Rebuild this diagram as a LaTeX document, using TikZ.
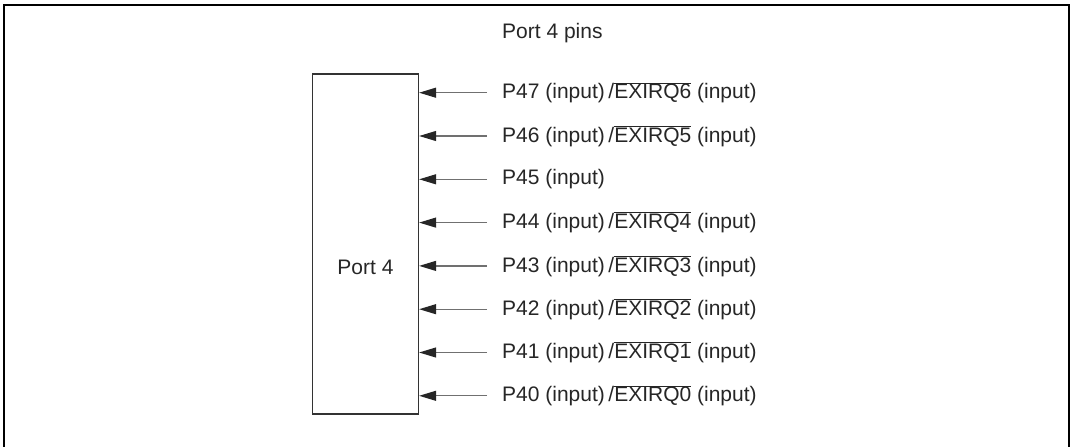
\documentclass[tikz,border=0pt]{standalone}
\usepackage{fontspec}
\setmainfont{Liberation Sans}
\definecolor{boxgray}{HTML}{333333}
\definecolor{wiregray}{HTML}{707070}
\usetikzlibrary{arrows.meta,positioning}
\newcommand{\irqbar}[1]{$\overline{\mbox{EXIRQ#1}}$}

\begin{document}
\begin{tikzpicture}[x=1pt, y=-1pt,
  pinlabel/.style={anchor=west, inner xsep=15pt, inner ysep=0pt,
    font=\fontsize{21}{25}\selectfont, text=black!85},
  pinarrow/.style={draw=wiregray, line width=1.2pt,
    -{Triangle[length=17pt,width=10pt,color=black!85]}},
]
  \useasboundingbox (0,0) rectangle (1072,447);
  % outer frame, open at the bottom
  \draw[line width=2pt] (3.5,447) -- (3.5,5) -- (1068.5,5) -- (1068.5,447);

  \node[font=\fontsize{21}{25}\selectfont, text=black!85, anchor=west, inner sep=0pt]
    (title) at (502,33) {Port 4 pins};

  \node[draw=boxgray, line width=1.3pt, minimum width=106pt, minimum height=340pt,
    inner sep=0pt] (port) at (365.5,244) {};
  \node[font=\fontsize{21}{25}\selectfont, text=black!85] (portname) at (365.5,267) {Port 4};

  \node[pinlabel] (p47) at (487,92.7)  {P47 (input)\,/\irqbar{6} (input)};
  \node[pinlabel] (p46) at (487,136.0) {P46 (input)\,/\irqbar{5} (input)};
  \node[pinlabel] (p45) at (487,179.3) {P45 (input)};
  \node[pinlabel] (p44) at (487,222.6) {P44 (input)\,/\irqbar{4} (input)};
  \node[pinlabel] (p43) at (487,265.9) {P43 (input)\,/\irqbar{3} (input)};
  \node[pinlabel] (p42) at (487,309.2) {P42 (input)\,/\irqbar{2} (input)};
  \node[pinlabel] (p41) at (487,352.5) {P41 (input)\,/\irqbar{1} (input)};
  \node[pinlabel] (p40) at (487,395.8) {P40 (input)\,/\irqbar{0} (input)};

  \draw[pinarrow] (p47.west) -- (p47.west -| port.east);
  \draw[pinarrow] (p46.west) -- (p46.west -| port.east);
  \draw[pinarrow] (p45.west) -- (p45.west -| port.east);
  \draw[pinarrow] (p44.west) -- (p44.west -| port.east);
  \draw[pinarrow] (p43.west) -- (p43.west -| port.east);
  \draw[pinarrow] (p42.west) -- (p42.west -| port.east);
  \draw[pinarrow] (p41.west) -- (p41.west -| port.east);
  \draw[pinarrow] (p40.west) -- (p40.west -| port.east);
\end{tikzpicture}
\end{document}
